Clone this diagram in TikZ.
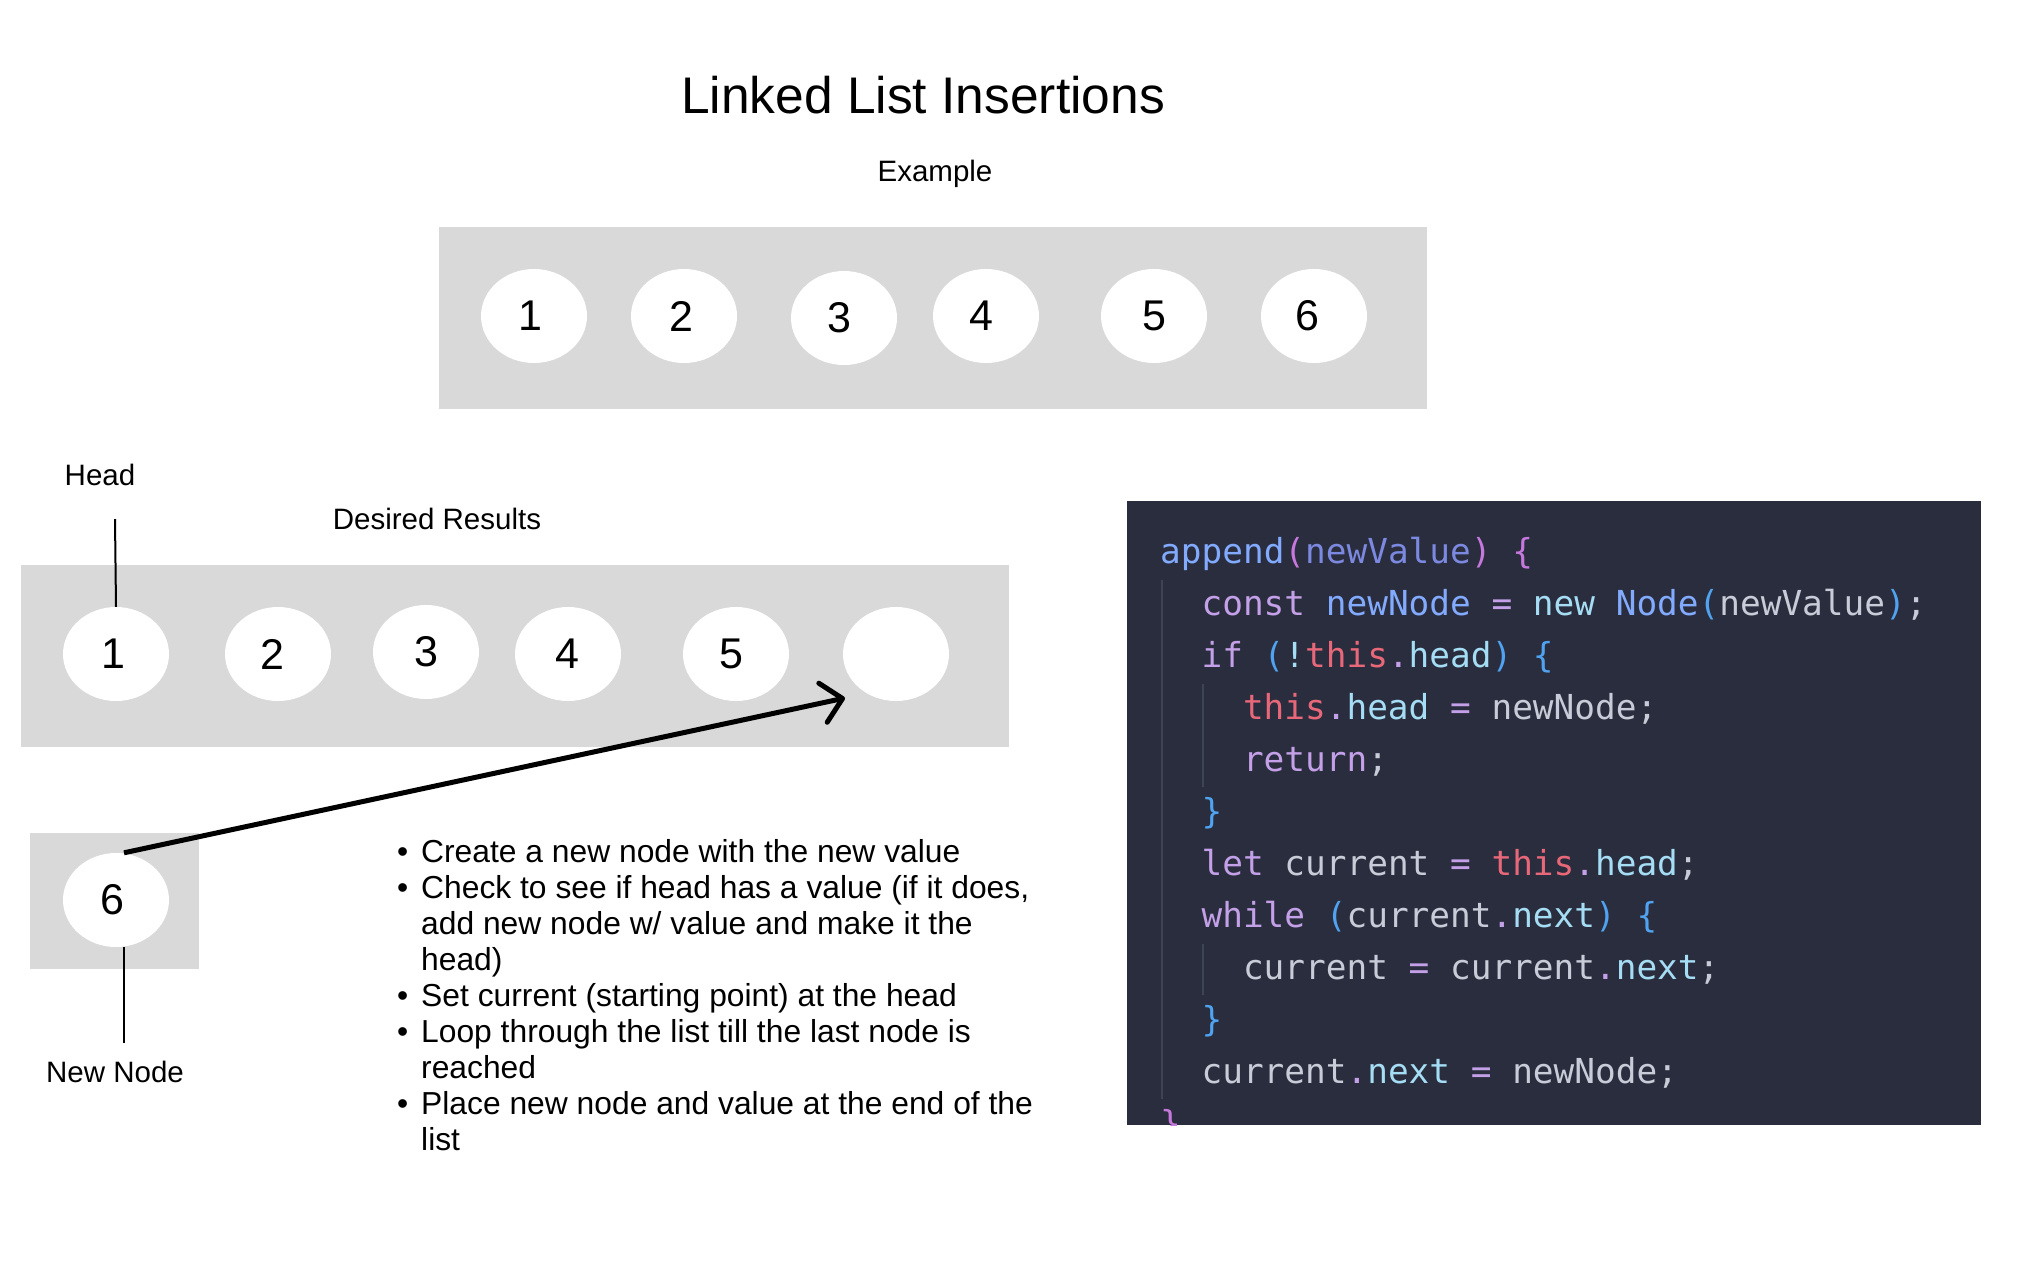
\documentclass[tikz,border=0pt]{standalone}
\usepackage{fontspec}
\setmainfont{Liberation Sans}
\setmonofont{DejaVu Sans Mono}
\usetikzlibrary{shapes.geometric,arrows.meta}
\definecolor{boxgray}{HTML}{D9D9D9}
\definecolor{codebg}{HTML}{2A2D3D}
\definecolor{guidec}{HTML}{3F4356}
\definecolor{cfn}{HTML}{82AAFF}
\definecolor{cparam}{HTML}{7C89E0}
\definecolor{ckw}{HTML}{C3A0E8}
\definecolor{cpink}{HTML}{C678DD}
\definecolor{cbl}{HTML}{4FA3F0}
\definecolor{cthis}{HTML}{E8687A}
\definecolor{cprop}{HTML}{A5DDF5}
\definecolor{ctext}{HTML}{C8CCD8}
\newcommand\cx[2]{\textcolor{#1}{#2}}
\frenchspacing
\begin{document}
\begin{tikzpicture}[x=1pt,y=-1pt,
  lnode/.style={ellipse,fill=white,minimum width=106pt,minimum height=94pt,inner sep=0pt,font=\fontsize{43}{48}\selectfont},
  panel/.style={fill=boxgray},
  lbl/.style={font=\fontsize{29.5}{34}\selectfont,anchor=base,inner sep=0pt},
  bul/.style={font=\fontsize{31.8}{36}\selectfont,anchor=base west,inner sep=0pt},
  codeln/.style={font=\ttfamily\fontsize{34.4}{40}\selectfont,anchor=base west,inner sep=0pt},
  guide/.style={draw=guidec,line width=2.5pt},
  pointer/.style={line width=2pt},
  ]
\useasboundingbox (0,0) rectangle (2039,1280);
\fill[white] (0,0) rectangle (2039,1280);

% title
\node[font=\fontsize{51.5}{56}\selectfont,anchor=base,inner sep=0pt] (title) at (923,113) {Linked List Insertions};
\node[lbl] (example) at (935,181) {Example};

% example panel
\fill[panel] (439,227) rectangle (1427,409);
\node[lnode] (t1) at (534,316) {\kern-8pt1};
\node[lnode] (t2) at (684,316) {\kern-6pt2};
\node[lnode] (t3) at (844,318) {\kern-10pt3};
\node[lnode] (t4) at (986,316) {\kern-10pt4};
\node[lnode] (t5) at (1154,316) {5};
\node[lnode] (t6) at (1314,316) {\kern-14pt6};

% desired results
\node[lbl] (headlbl) at (100,485) {Head};
\node[lbl] (desired) at (437,529) {Desired Results};
\fill[panel] (21,565) rectangle (1009,747);
\node[lnode] (l1) at (116,654) {\kern-5pt1};
\node[lnode] (l2) at (278,654) {\kern-12pt2};
\node[lnode] (l3) at (426,652) {3};
\node[lnode] (l4) at (568,654) {\kern-2pt4};
\node[lnode] (l5) at (736,654) {\kern-10pt5};
\node[lnode] (l6) at (896,654) {};
\coordinate (headtop) at (115,519);
\draw[pointer] (headtop) -- (l1.north);

% new node
\fill[panel] (30,833) rectangle (199,969);
\node[lnode] (new6) at (116,900) {\kern-8pt6};
\coordinate (newbot) at (124,1043);
\node[lbl] (newlbl) at (115,1082) {New Node};
\draw[pointer] ([xshift=8pt]new6.south) -- (newbot);

% arrow
\coordinate (arrtip) at (845,698);
\draw[line width=5pt,-{Straight Barb[length=20pt,width=40pt,round]}] ([xshift=8pt]new6.north) -- (arrtip);

% bullets
\node[bul] (b1) at (397,862) {\makebox[24pt][l]{\textbullet}Create a new node with the new value};
\node[bul] (b2) at (397,898) {\makebox[24pt][l]{\textbullet}Check to see if head has a value (if it does,};
\node[bul] (b2a) at (421,934) {add new node w/ value and make it the};
\node[bul] (b2b) at (421,970) {head)};
\node[bul] (b3) at (397,1006) {\makebox[24pt][l]{\textbullet}Set current (starting point) at the head};
\node[bul] (b4) at (397,1042) {\makebox[24pt][l]{\textbullet}Loop through the list till the last node is};
\node[bul] (b4a) at (421,1078) {reached};
\node[bul] (b5) at (397,1114) {\makebox[24pt][l]{\textbullet}Place new node and value at the end of the};
\node[bul] (b5a) at (421,1150) {list};

% code block
\fill[codebg] (1127,501) rectangle (1981,1125);
\begin{scope}
\clip (1127,501) rectangle (1981,1125);
\draw[guide] (1162,580) -- (1162,1099);
\draw[guide] (1203,684) -- (1203,787);
\draw[guide] (1203,944) -- (1203,995);
\node[codeln] (c1) at (1160,563) {\cx{cfn}{append}\cx{cpink}{(}\cx{cparam}{newValue}\cx{cpink}{)} \cx{cpink}{\{}};
\node[codeln] (c2) at (1201.4,615) {\cx{ckw}{const} \cx{cfn}{newNode} \cx{ckw}{=} \cx{cprop}{new} \cx{cfn}{Node}\cx{cbl}{(}\cx{ctext}{newValue}\cx{cbl}{)}\cx{ctext}{;}};
\node[codeln] (c3) at (1201.4,667) {\cx{ckw}{if} \cx{cbl}{(}\cx{cprop}{!}\cx{cthis}{this}\cx{ckw}{.}\cx{cprop}{head}\cx{cbl}{)} \cx{cbl}{\{}};
\node[codeln] (c4) at (1242.8,719) {\cx{cthis}{this}\cx{ckw}{.}\cx{cprop}{head} \cx{ckw}{=} \cx{ctext}{newNode;}};
\node[codeln] (c5) at (1242.8,771) {\cx{ckw}{return}\cx{ctext}{;}};
\node[codeln] (c6) at (1201.4,823) {\cx{cbl}{\}}};
\node[codeln] (c7) at (1201.4,875) {\cx{ckw}{let} \cx{ctext}{current} \cx{ckw}{=} \cx{cthis}{this}\cx{ckw}{.}\cx{cprop}{head}\cx{ctext}{;}};
\node[codeln] (c8) at (1201.4,927) {\cx{ckw}{while} \cx{cbl}{(}\cx{ctext}{current}\cx{ckw}{.}\cx{cprop}{next}\cx{cbl}{)} \cx{cbl}{\{}};
\node[codeln] (c9) at (1242.8,979) {\cx{ctext}{current} \cx{ckw}{=} \cx{ctext}{current}\cx{ckw}{.}\cx{cprop}{next}\cx{ctext}{;}};
\node[codeln] (c10) at (1201.4,1031) {\cx{cbl}{\}}};
\node[codeln] (c11) at (1201.4,1083) {\cx{ctext}{current}\cx{ckw}{.}\cx{cprop}{next} \cx{ckw}{=} \cx{ctext}{newNode;}};
\node[codeln] (c12) at (1160,1135) {\cx{cpink}{\}}};
\end{scope}
\end{tikzpicture}
\end{document}
